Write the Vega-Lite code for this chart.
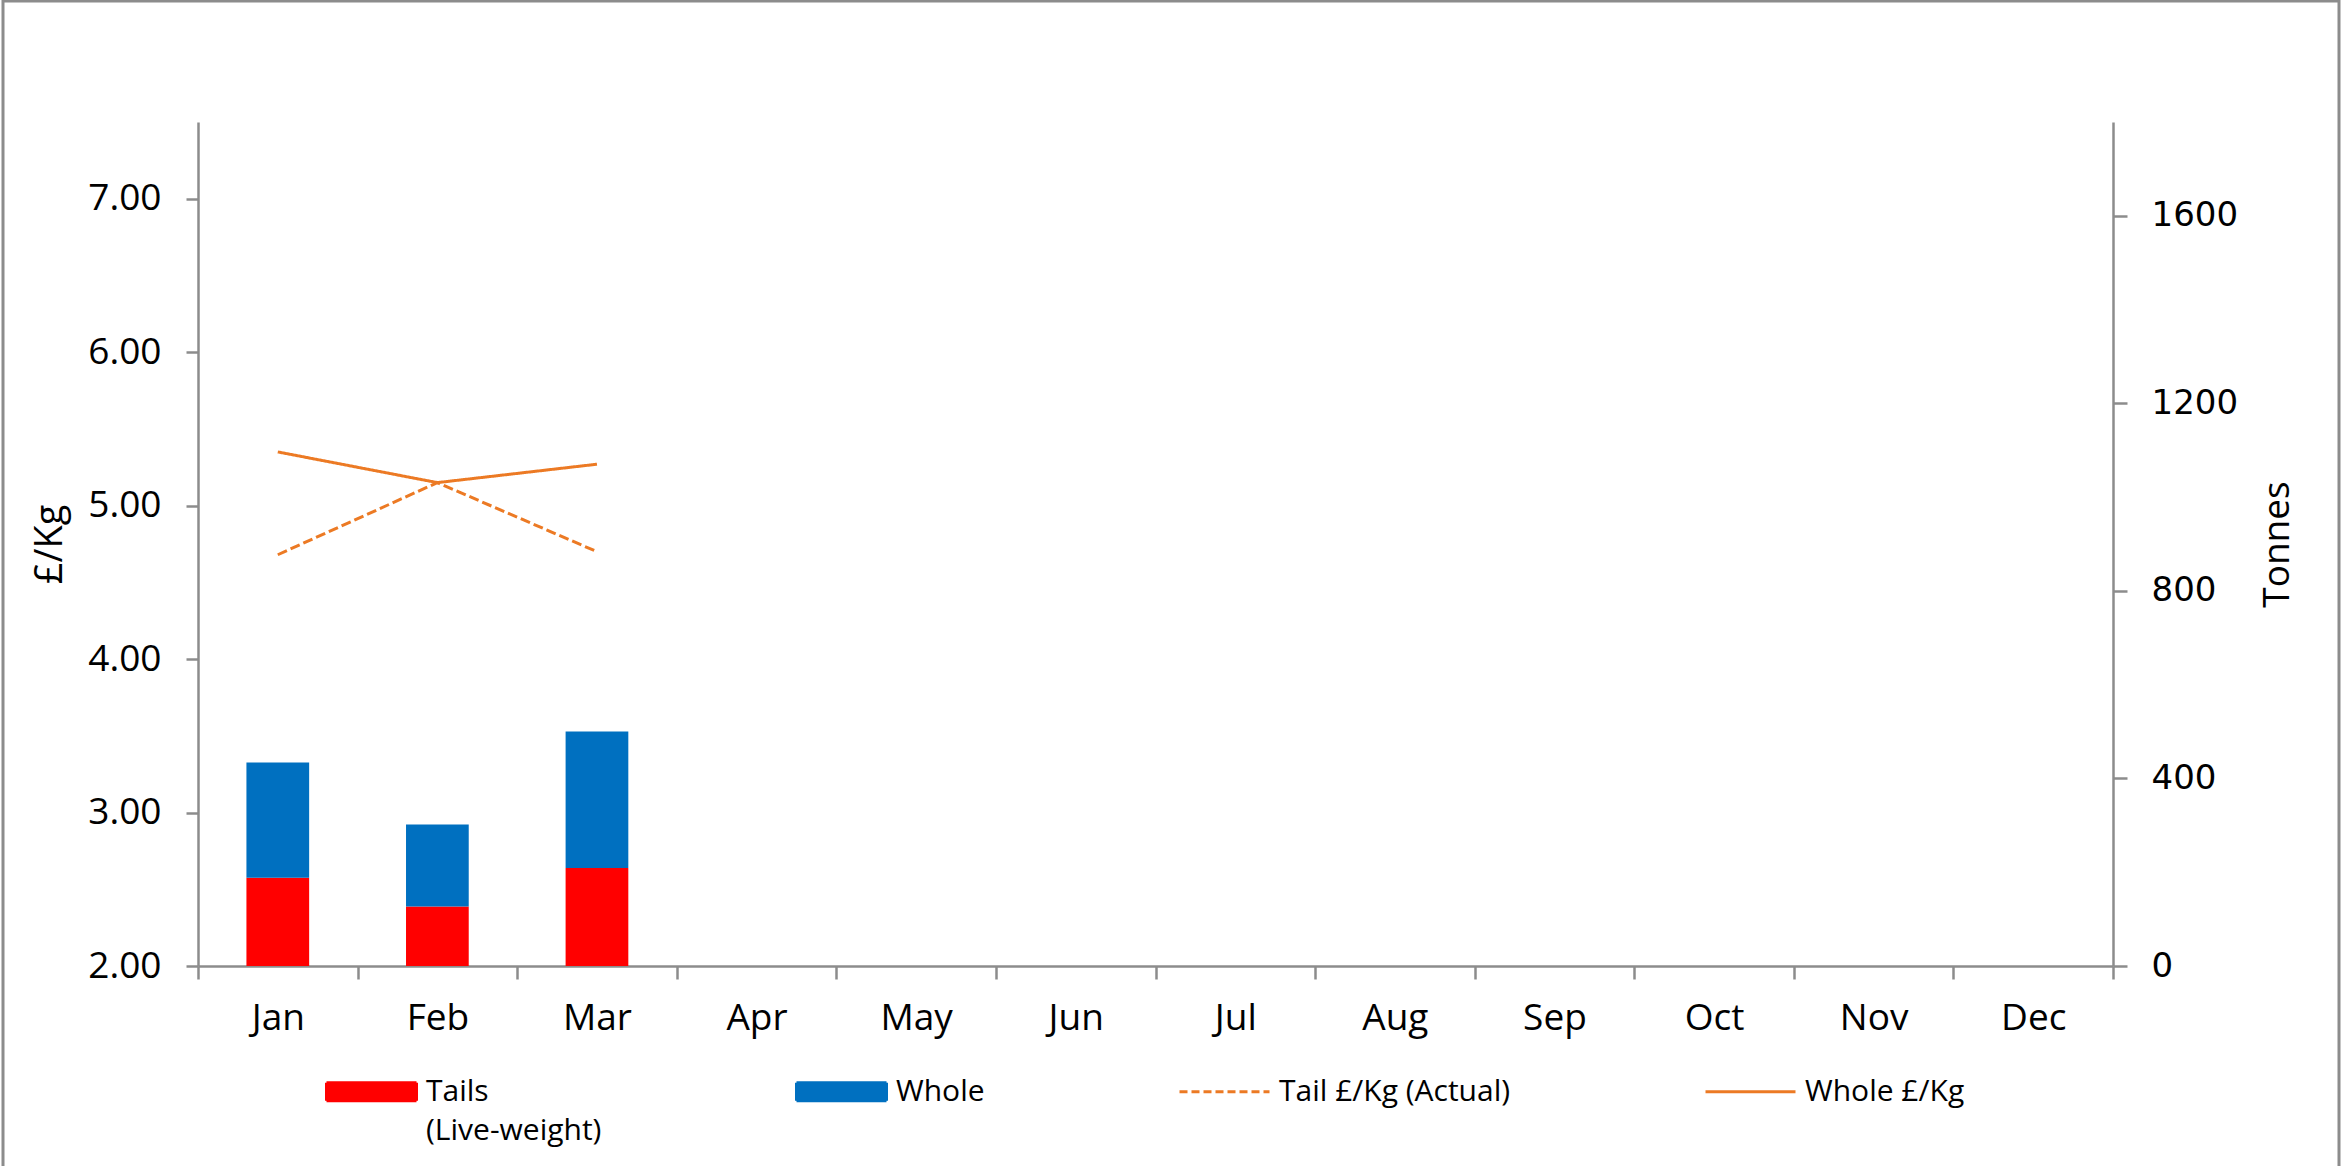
{
  "$schema": "https://vega.github.io/schema/vega-lite/v6.json",
  "autosize": {"type": "none"},
  "padding": {"left": 3, "top": 1, "right": 2, "bottom": 0},
  "width": 2336,
  "height": 1170,
  "background": "white",
  "config": {
    "view": {"stroke": "#8c8c8c", "strokeWidth": 3},
    "axis": {
      "grid": false,
      "domainColor": "#8c8c8c",
      "tickColor": "#8c8c8c",
      "domainWidth": 2.5,
      "tickWidth": 2.5,
      "labelColor": "#000000",
      "titleColor": "#000000",
      "titleFontWeight": "normal"
    }
  },
  "datasets": {
    "tonnes": [
      {"month": "Jan", "series": "Tails (Live-weight)", "ord": 1, "tonnes": 188},
      {"month": "Jan", "series": "Whole", "ord": 2, "tonnes": 246},
      {"month": "Feb", "series": "Tails (Live-weight)", "ord": 1, "tonnes": 127},
      {"month": "Feb", "series": "Whole", "ord": 2, "tonnes": 175},
      {"month": "Mar", "series": "Tails (Live-weight)", "ord": 1, "tonnes": 209},
      {"month": "Mar", "series": "Whole", "ord": 2, "tonnes": 291}
    ],
    "prices": [
      {"month": "Jan", "series": "Tail £/Kg (Actual)", "price": 4.68},
      {"month": "Feb", "series": "Tail £/Kg (Actual)", "price": 5.15},
      {"month": "Mar", "series": "Tail £/Kg (Actual)", "price": 4.70},
      {"month": "Jan", "series": "Whole £/Kg", "price": 5.35},
      {"month": "Feb", "series": "Whole £/Kg", "price": 5.15},
      {"month": "Mar", "series": "Whole £/Kg", "price": 5.27}
    ]
  },
  "layer": [
    {
      "data": {"name": "tonnes"},
      "mark": {"type": "bar", "width": {"band": 0.393}},
      "encoding": {
        "x": {
          "field": "month", "type": "ordinal",
          "scale": {"domain": ["Jan","Feb","Mar","Apr","May","Jun","Jul","Aug","Sep","Oct","Nov","Dec"], "range": [195, 2110], "paddingInner": 0, "paddingOuter": 0},
          "axis": {
            "title": null, "orient": "bottom", "offset": -205, "tickBand": "extent",
            "labelAngle": 0, "tickSize": 13, "labelPadding": 21,
            "labelFont": "Open Sans", "labelFontSize": 37
          }
        },
        "y": {
          "field": "tonnes", "type": "quantitative", "stack": "zero",
          "scale": {"domain": [0, 1800], "range": [965, 121], "nice": false, "zero": true},
          "axis": {
            "orient": "right", "offset": -226, "values": [0, 400, 800, 1200, 1600], "format": "d",
            "tickSize": 14, "labelPadding": 24, "labelFont": "DejaVu Sans", "labelFontSize": 34,
            "title": "Tonnes", "titleFont": "Open Sans", "titleFontSize": 37,
            "titleAngle": 270, "titleBaseline": "top", "titlePadding": 22
          }
        },
        "color": {
          "field": "series", "type": "nominal",
          "scale": {
            "domain": ["Tails (Live-weight)", "Whole", "Tail £/Kg (Actual)", "Whole £/Kg"],
            "range": ["#FF0000", "#0070C0", "#EC7A24", "#EC7A24"]
          },
          "legend": {
            "title": null, "orient": "none", "legendX": 322, "legendY": 1044,
            "direction": "horizontal", "columns": 4, "columnPadding": 188, "padding": 0,
            "symbolType": "M-1,-0.2H1V0.2H-1Z", "symbolSize": 8100,
            "labelOffset": 8, "labelFont": "Open Sans", "labelFontSize": 30, "labelColor": "#000000", "labelLimit": 0,
            "labelExpr": "datum.label == 'Tails (Live-weight)' ? ['Tails', '(Live-weight)'] : [datum.label, '']",
            "encode": {
              "symbols": {"update": {
                "shape": {"signal": "(datum.value == 'Tails (Live-weight)' || datum.value == 'Whole') ? 'M-1,-0.2H1V0.2H-1Z' : 'M-1,0H1'"},
                "fill": {"signal": "datum.value == 'Tails (Live-weight)' ? '#FF0000' : datum.value == 'Whole' ? '#0070C0' : 'transparent'"},
                "stroke": {"signal": "(datum.value == 'Tails (Live-weight)' || datum.value == 'Whole') ? 'transparent' : '#EC7A24'"},
                "strokeWidth": {"value": 3},
                "strokeDash": {"signal": "datum.value == 'Tail £/Kg (Actual)' ? [8, 4] : [1, 0]"},
                "opacity": {"value": 1},
                "fillOpacity": {"value": 1},
                "strokeOpacity": {"value": 1}
              }},
              "labels": {"update": {
                "lineHeight": {"value": 39}
              }}
            }
          }
        },
        "order": {"field": "ord", "type": "quantitative"}
      }
    },
    {
      "data": {"name": "prices"},
      "mark": {"type": "line", "strokeWidth": 3},
      "encoding": {
        "x": {
          "field": "month", "type": "ordinal",
          "scale": {"domain": ["Jan","Feb","Mar","Apr","May","Jun","Jul","Aug","Sep","Oct","Nov","Dec"], "range": [195, 2110], "paddingInner": 0, "paddingOuter": 0}
        },
        "y": {
          "field": "price", "type": "quantitative",
          "scale": {"domain": [2, 7.5], "range": [965, 121], "nice": false, "zero": false},
          "axis": {
            "orient": "left", "offset": -195, "values": [2, 3, 4, 5, 6, 7], "format": ".2f",
            "tickSize": 12, "labelPadding": 25, "labelFont": "Open Sans", "labelFontSize": 37,
            "title": "£/Kg", "titleFont": "Open Sans", "titleFontSize": 38,
            "titleAngle": 270, "titleBaseline": "bottom", "titlePadding": 18
          }
        },
        "color": {"field": "series", "type": "nominal"},
        "strokeDash": {
          "field": "series", "type": "nominal",
          "scale": {"domain": ["Tail £/Kg (Actual)", "Whole £/Kg"], "range": [[10, 4], [1, 0]]},
          "legend": null
        }
      }
    }
  ],
  "resolve": {"scale": {"y": "independent"}}
}
